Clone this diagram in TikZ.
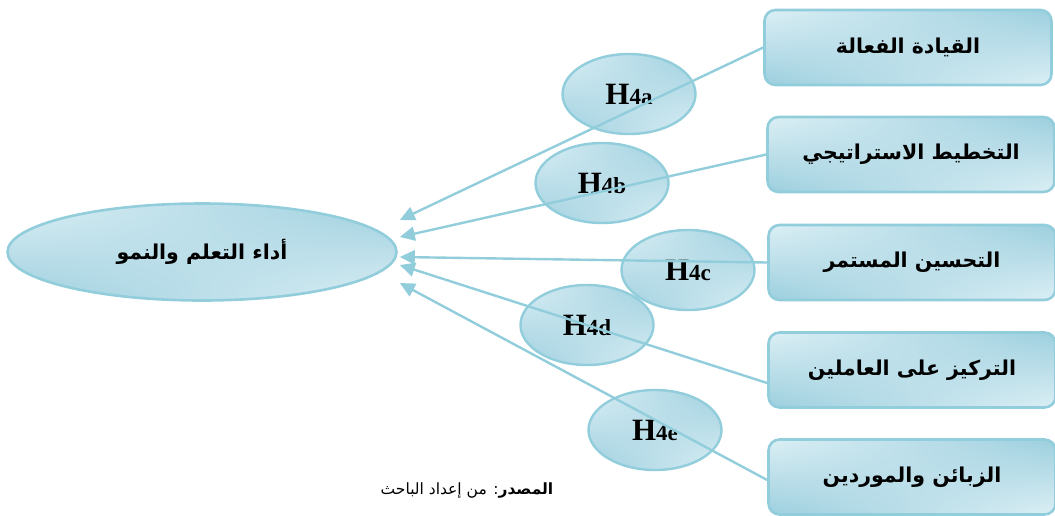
\documentclass[tikz,border=0pt]{standalone}
\usepackage{fontspec}
\setmainfont{Liberation Serif}
\newfontfamily\arabicfont[Script=Arabic]{DejaVu Sans}
\TeXXeTstate=1
\usetikzlibrary{arrows.meta,shapes.geometric,calc,shadings}
\definecolor{lightfill}{HTML}{DCEFF5}
\definecolor{darkfill}{HTML}{9CCFDE}
\definecolor{edgeblue}{HTML}{92CDDC}
\tikzset{
  shadefill/.style={upper left=lightfill, lower right=lightfill, upper right=darkfill, lower left=darkfill},
  factor/.style={draw=edgeblue, line width=2.6pt, rounded corners=11pt, shadefill,
     minimum width=287pt, minimum height=75pt, inner sep=0pt,
     font=\arabicfont\bfseries\fontsize{20.5}{24}\selectfont},
  hyp/.style={ellipse, draw=edgeblue, line width=2.4pt, shadefill,
     minimum width=133pt, minimum height=80pt, inner sep=0pt,
     font=\bfseries\fontsize{31}{33}\selectfont},
  mainell/.style={ellipse, draw=edgeblue, line width=2.6pt, shadefill,
     minimum width=389pt, minimum height=97pt, inner sep=0pt,
     font=\arabicfont\bfseries\fontsize{20.5}{24}\selectfont},
  conn/.style={draw=edgeblue, line width=2.4pt, -{Triangle[length=15pt,width=14pt]}},
  caption/.style={font=\arabicfont\fontsize{15.5}{18}\selectfont}
}
\newcommand{\hlab}[1]{H{\fontsize{23}{25}\selectfont 4#1}}
\begin{document}
\begin{tikzpicture}[x=1pt,y=-1pt]
\useasboundingbox (0,0) rectangle (1055,515);
% main
\node[mainell] (main) at (202,252) {\beginR أداء التعلم والنمو\endR};
% hypothesis ellipses
\node[hyp] (ha) at (629,94) {\hlab{a}};
\node[hyp] (hb) at (602,183) {\hlab{b}};
\node[hyp] (hc) at (688,270) {\hlab{c}};
\node[hyp] (hd) at (587,325) {\hlab{d}};
\node[hyp] (he) at (655,430) {\hlab{e}};
% boxes
\node[factor] (b1) at (908,47.5) {\beginR القيادة الفعالة\endR};
\node[factor] (b2) at (911,154.5) {\beginR التخطيط الاستراتيجي\endR};
\node[factor] (b3) at (912,262.5) {\beginR التحسين المستمر\endR};
\node[factor] (b4) at (912,370) {\beginR التركيز على العاملين\endR};
\node[factor] (b5) at (912,477) {\beginR الزبائن والموردين\endR};
% arrow targets
\coordinate (t1) at ($(main.east)+(2,-32)$);
\coordinate (t2) at ($(main.east)+(2,-15)$);
\coordinate (t3) at ($(main.east)+(2,5)$);
\coordinate (t4) at ($(main.east)+(2,13)$);
\coordinate (t5) at ($(main.east)+(2,31)$);
% connectors
\draw[conn] (b1.west) -- (t1);
\draw[conn] (b2.west) -- (t2);
\draw[conn] (b3.west) -- (t3);
\draw[conn] ($(b4.west)+(0,13)$) -- (t4);
\draw[conn] ($(b5.west)+(0,3)$) -- (t5);
% caption
\node[caption] (src) at (467,490) {\beginR\textbf{المصدر}: من إعداد الباحث\endR};
\end{tikzpicture}
\end{document}
